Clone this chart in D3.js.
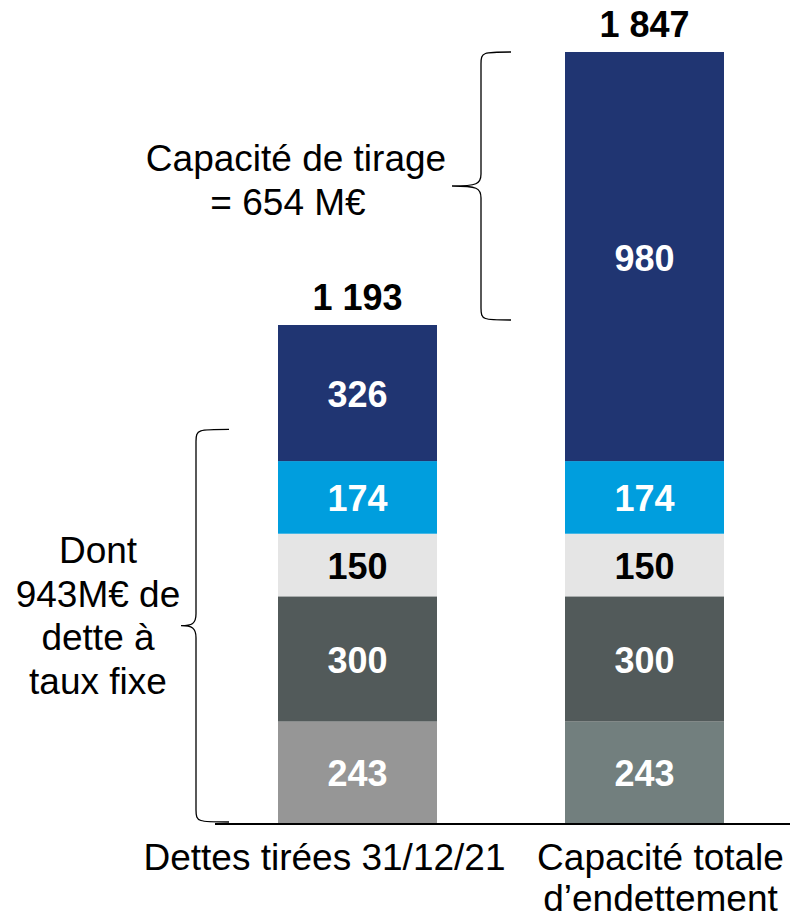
<!DOCTYPE html>
<html>
<head>
<meta charset="utf-8">
<script src="https://cdn.jsdelivr.net/npm/d3@7"></script>
<style>
  html, body { margin: 0; padding: 0; background: #fff; }
  svg { display: block; font-family: "Liberation Sans", Arial, sans-serif; }
</style>
</head>
<body>
<svg id="chart" width="790" height="919"></svg>
<script>
// Bar categories (each label may span two lines)
const categories = [["Dettes tirées 31/12/21"], ["Capacité totale", "d’endettement"]];
// Stack components, bottom to top
const segmentNames = ["base", "fixe300", "fixe150", "bleu", "tirage"];
const seriesValues = [
  [243, 300, 150, 174, 326],
  [243, 300, 150, 174, 980]
];
const totals = [1193, 1847];
const totalLabels = ["1 193", "1 847"];
const fixedDebt = 943;

const segmentColors = [
  ["#969696", "#525a5a", "#e5e5e5", "#009ede", "#203572"],
  ["#727f7e", "#525a5a", "#e5e5e5", "#009ede", "#203572"]
];
const labelColors = ["#fff", "#fff", "#000", "#fff", "#fff"];

const FS_BOLD = 36;
const FS = 37;
const svg = d3.select("#chart");

const x = d3.scaleBand().domain(d3.range(categories.length)).range([278, 724]).paddingInner(0.446).paddingOuter(0);
const y = d3.scaleLinear().domain([0, 1847]).range([823, 52]);

const stack = d3.stack().keys(d3.range(segmentNames.length));
const stacked = stack(seriesValues);

stacked.forEach((layer, li) => {
  layer.forEach((d, ci) => {
    const bx = x(ci), bw = x.bandwidth();
    svg.append("rect")
      .attr("x", bx).attr("width", bw)
      .attr("y", y(d[1])).attr("height", y(d[0]) - y(d[1]))
      .attr("fill", segmentColors[ci][li]);
    svg.append("text")
      .attr("x", bx + bw / 2)
      .attr("y", (y(d[0]) + y(d[1])) / 2 + 1)
      .attr("dy", "0.36em")
      .attr("text-anchor", "middle")
      .attr("font-size", FS_BOLD).attr("font-weight", "bold")
      .attr("fill", labelColors[li])
      .text(d[1] - d[0]);
  });
});

// Totals above bars
totals.forEach((t, i) => {
  svg.append("text")
    .attr("x", x(i) + x.bandwidth() / 2)
    .attr("y", y(t) - 15)
    .attr("text-anchor", "middle")
    .attr("font-size", FS_BOLD).attr("font-weight", "bold")
    .attr("fill", "#000")
    .text(totalLabels[i]);
});

// Baseline
svg.append("line")
  .attr("x1", 215).attr("x2", 790)
  .attr("y1", y(0) + 1).attr("y2", y(0) + 1)
  .attr("stroke", "#000").attr("stroke-width", 2);

// Category labels
const labelShift = [-33, 16];
categories.forEach((lines, i) => {
  const cx = x(i) + x.bandwidth() / 2 + labelShift[i];
  const t = svg.append("text")
    .attr("y", 870)
    .attr("text-anchor", "middle")
    .attr("font-size", FS).attr("fill", "#000");
  lines.forEach((l, k) => t.append("tspan").attr("x", cx).attr("dy", k === 0 ? 0 : 41).text(l));
});

// Curly brace opening to the right, tip on the left
function brace(xTip, xSpine, xEnd, yTop, yBot) {
  const yMid = (yTop + yBot) / 2;
  const r = 6;
  return `M${xEnd},${yTop} C${xSpine + 2},${yTop} ${xSpine},${yTop} ${xSpine},${yTop + r * 2}
          L${xSpine},${yMid - r * 2} C${xSpine},${yMid - 2} ${xSpine - 4},${yMid} ${xTip},${yMid}
          C${xSpine - 4},${yMid} ${xSpine},${yMid + 2} ${xSpine},${yMid + r * 2}
          L${xSpine},${yBot - r * 2} C${xSpine},${yBot} ${xSpine + 2},${yBot} ${xEnd},${yBot}`;
}

svg.append("path")
  .attr("d", brace(181, 196, 229, y(fixedDebt), y(0) - 1))
  .attr("fill", "none").attr("stroke", "#000").attr("stroke-width", 1.3);

svg.append("path")
  .attr("d", brace(452, 481, 511, y(totals[1]), y(totals[0]) - 5))
  .attr("fill", "none").attr("stroke", "#000").attr("stroke-width", 1.3);

// Annotations
const capText = svg.append("text").attr("text-anchor", "middle").attr("font-size", FS).attr("fill", "#000");
capText.append("tspan").attr("x", 296).attr("y", 171).text("Capacité de tirage");
capText.append("tspan").attr("x", 288).attr("y", 215).text("= 654 M€");

const fixText = svg.append("text").attr("text-anchor", "middle").attr("font-size", FS).attr("fill", "#000");
["Dont", "943M€ de", "dette à", "taux fixe"].forEach((l, k) => {
  fixText.append("tspan").attr("x", 98).attr("y", 563 + k * 43.5).text(l);
});
</script>
</body>
</html>
